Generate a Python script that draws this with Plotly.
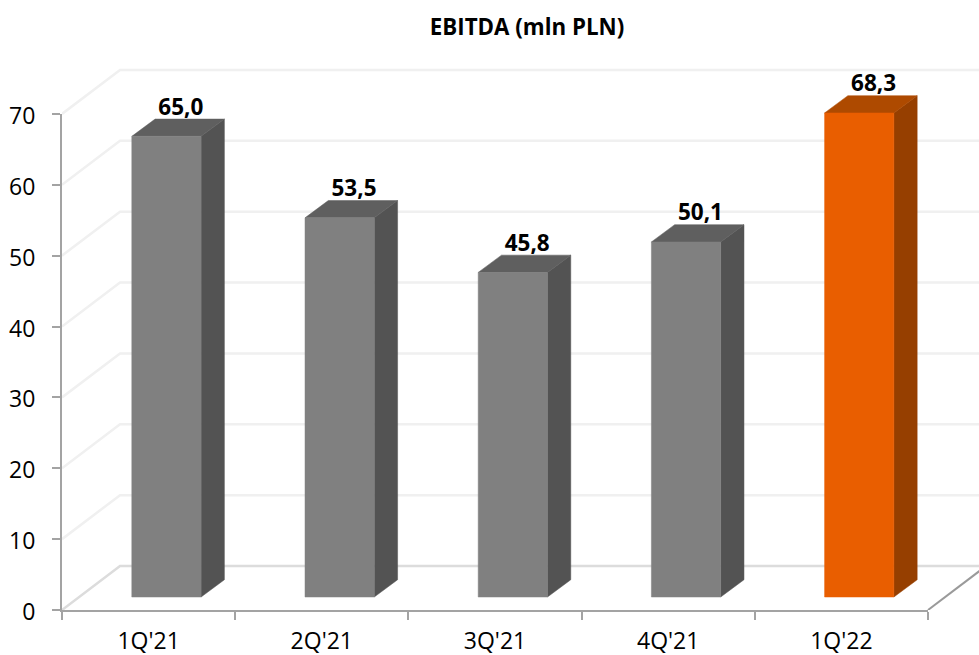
import plotly.graph_objects as go

categories = ["1Q'21", "2Q'21", "3Q'21", "4Q'21", "1Q'22"]
values = [65.0, 53.5, 45.8, 50.1, 68.3]
labels = ["65,0", "53,5", "45,8", "50,1", "68,3"]
y_ticks = [0, 10, 20, 30, 40, 50, 60, 70]
title = "EBITDA (mln PLN)"

FONT = "Open Sans"
# colours per bar: front, side, top
GREY = ("#808080", "#535353", "#5f5f5f")
ORANGE = ("#e95e00", "#963f00", "#ae4a00")
bar_colors = [GREY, GREY, GREY, GREY, ORANGE]
AXIS_COLOR = "#a3a3a3"

# pseudo-3D geometry in axis units
WALL_DX, WALL_DY = 0.335, 6.2
BAR_SHIFT, BAR_HALF, BAR_BASE = 0.103, 0.2, 1.83
BAR_DX, BAR_DY = 0.1345, 2.44
LABEL_DX, LABEL_DY = 0.083, -0.2

W, H = 979, 655
fig = go.Figure()


def poly(xs, ys, color):
    fig.add_trace(go.Scatter(x=xs, y=ys, mode="lines", fill="toself", fillcolor=color,
                             line=dict(color=color, width=0.5), cliponaxis=False,
                             hoverinfo="skip", showlegend=False))


def wall_line(xs, ys, color, width):
    fig.add_trace(go.Scatter(x=xs, y=ys, mode="lines", line=dict(color=color, width=width),
                             cliponaxis=False, hoverinfo="skip", showlegend=False))


x_left, x_right = -0.5, len(categories) - 0.5

# back wall and side wall gridlines
for v in y_ticks[1:]:
    wall_line([x_left, x_left + WALL_DX, x_right + WALL_DX], [v, v + WALL_DY, v + WALL_DY], "#f0f0f0", 2.5)

# floor
wall_line([x_left, x_left + WALL_DX, x_right + WALL_DX], [0, WALL_DY, WALL_DY], "#dcdcdc", 2.5)
wall_line([x_right, x_right + WALL_DX], [0, WALL_DY], "#9a9a9a", 2)

# bars
for i, v in enumerate(values):
    front, side, top = bar_colors[i]
    x0, x1 = i + BAR_SHIFT - BAR_HALF, i + BAR_SHIFT + BAR_HALF
    y0, y1 = BAR_BASE, BAR_BASE + v
    poly([x1, x1 + BAR_DX, x1 + BAR_DX, x1, x1], [y0, y0 + BAR_DY, y1 + BAR_DY, y1, y0], side)
    poly([x0, x1, x1 + BAR_DX, x0 + BAR_DX, x0], [y1, y1, y1 + BAR_DY, y1 + BAR_DY, y1], top)
    poly([x0, x1, x1, x0, x0], [y0, y0, y1, y1, y0], front)

# value labels
fig.add_trace(go.Scatter(
    x=[i + BAR_SHIFT + LABEL_DX for i in range(len(values))],
    y=[BAR_BASE + v + BAR_DY + LABEL_DY for v in values],
    mode="text", text=labels, textposition="top center",
    textfont=dict(family=FONT, size=22.5, color="#000000", weight="bold"),
    cliponaxis=False, hoverinfo="skip", showlegend=False))

# invisible trace that keeps the visible axis pair alive
fig.add_trace(go.Scatter(x=[0], y=[0], xaxis="x2", yaxis="y2", mode="markers",
                         marker=dict(opacity=0, size=1), hoverinfo="skip", showlegend=False))

TICK_FONT = dict(family=FONT, size=23, color="#000000")
fig.update_layout(
    width=W, height=H, autosize=False,
    margin=dict(l=62, r=0, t=43, b=45, pad=0),
    paper_bgcolor="#ffffff", plot_bgcolor="rgba(0,0,0,0)",
    showlegend=False,
    title=dict(text=title, x=527 / W, xanchor="center", y=1 - 27 / H, yanchor="middle",
               font=dict(family=FONT, size=22.3, color="#000000", weight="bold")),
    # full drawing area for the pseudo-3D marks, axes hidden
    xaxis=dict(domain=[0, 1], range=[x_left, x_left + 917 / 173.2], visible=False, automargin=False),
    yaxis=dict(domain=[0, 1], range=[0, 80], visible=False, automargin=False),
    # visible axes
    xaxis2=dict(domain=[0, 866 / 917], anchor="y2", range=[x_left, x_right], tickmode="array",
                tickvals=list(range(len(categories))), ticktext=categories, ticks="",
                showline=True, linecolor=AXIS_COLOR, linewidth=2, showgrid=False, zeroline=False,
                ticklabelstandoff=9, tickfont=TICK_FONT, automargin=False,
                minor=dict(tickmode="array", tickvals=[i - 0.5 for i in range(len(categories) + 1)],
                           ticks="outside", ticklen=8, tickwidth=1.5, tickcolor=AXIS_COLOR, showgrid=False)),
    yaxis2=dict(domain=[0, 496 / 567], anchor="x2", range=[0, y_ticks[-1]], tickmode="array",
                tickvals=y_ticks, ticks="outside", showline=True, linecolor=AXIS_COLOR, linewidth=2,
                tickcolor=AXIS_COLOR, tickwidth=1.5, ticklen=8, showgrid=False, zeroline=False,
                ticklabelstandoff=12, ticklabelshift=2, tickfont=TICK_FONT, automargin=False),
)

fig.write_html("out.html", config=dict(displayModeBar=False), post_script="document.body.style.margin='0';")
